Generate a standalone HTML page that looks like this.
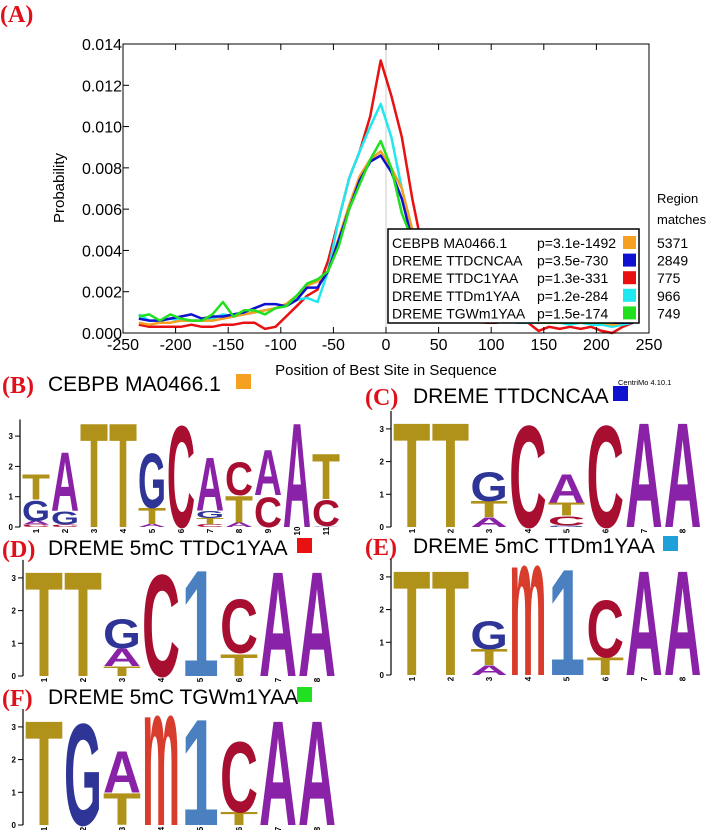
<!DOCTYPE html>
<html><head><meta charset="utf-8"><style>
body{margin:0;background:#fff;}
svg{display:block;font-family:"Liberation Sans",sans-serif;}
.pl{font-family:"Liberation Serif",serif;font-weight:bold;fill:#e0101a;font-size:24px;}
</style></head><body>
<svg id="root" width="708" height="830" viewBox="0 0 708 830">
<text class="pl" x="0" y="22">(A)</text>
<g id="chart"></g>
<g id="logos"></g>
</svg>
<script>
const xCats=[-235,-225,-215,-205,-195,-185,-175,-165,-155,-145,-135,-125,-115,-105,-95,-85,-75,-65,-55,-45,-35,-25,-15,-5,5,15,25,35,45,55,65,75,85,95,105,115,125,135,145,155,165,175,185,195,205,215,225,235];
const orangeVals=[0.5,0.4,0.5,0.5,0.6,0.6,0.6,0.6,0.7,0.8,0.9,1.0,1.1,1.2,1.4,1.8,2.3,2.5,3.0,4.6,6.2,7.6,8.4,8.8,8.0,7.0,5.0,3.2,2.2,1.5,1.1,0.9,0.8,0.7,0.7,0.6,0.6,0.6,0.5,0.5,0.5,0.5,0.5,0.5,0.5,0.4,0.5,0.5];
const blueVals=[0.7,0.6,0.6,0.7,0.8,0.9,0.7,0.8,0.8,0.9,1.0,1.2,1.4,1.4,1.3,1.6,2.2,2.2,3.0,4.5,6.0,7.4,8.3,8.6,7.8,6.5,4.5,3.0,2.0,1.4,1.1,0.9,0.8,0.7,0.7,0.6,0.6,0.6,0.5,0.5,0.5,0.5,0.5,0.5,0.5,0.5,0.5,0.5];
const redVals=[0.4,0.3,0.3,0.3,0.3,0.4,0.3,0.3,0.4,0.4,0.5,0.5,0.2,0.3,0.8,1.3,1.8,2.1,3.5,5.5,7.5,8.8,10.5,13.2,11.5,9.5,6.5,4.0,2.5,1.7,1.2,0.9,0.6,0.5,0.5,0.6,0.5,0.5,0.1,0.3,0.2,0.3,0.2,0.3,0.1,0.0,0.3,0.5];
const cyanVals=[0.9,0.6,0.6,0.7,0.6,0.6,0.6,0.7,0.9,0.8,0.9,1.0,1.1,1.2,1.3,1.6,1.7,1.5,3.0,5.5,7.5,8.8,10.0,11.1,9.5,7.0,5.0,3.0,2.0,1.4,1.0,0.8,0.7,0.6,0.6,0.6,0.5,0.5,0.5,0.5,0.5,0.4,0.5,0.4,0.4,0.3,0.4,0.5];
const greenVals=[0.8,0.9,0.6,0.9,0.7,0.6,0.6,0.9,1.5,0.8,1.1,1.1,0.9,1.2,1.3,1.8,2.4,2.6,3.0,4.2,6.0,7.2,8.4,9.3,8.0,5.8,4.5,3.0,2.0,1.4,1.0,0.8,0.7,0.7,0.6,0.6,0.6,0.6,0.5,0.5,0.5,0.5,0.5,0.5,0.5,0.5,0.6,0.6];
const xTicks=[-250,-200,-150,-100,-50,0,50,100,150,200,250];
const yTicks=[0,0.002,0.004,0.006,0.008,0.010,0.012,0.014];
const yTickLabels=["0.000","0.002","0.004","0.006","0.008","0.010","0.012","0.014"];
const legendNames=["CEBPB MA0466.1","DREME TTDCNCAA","DREME TTDC1YAA","DREME TTDm1YAA","DREME TGWm1YAA"];
const legendP=["p=3.1e-1492","p=3.5e-730","p=1.3e-331","p=1.2e-284","p=1.5e-174"];
const regionMatches=["5371","2849","775","966","749"];
const seriesColors=["#f5a020","#1010d0","#e81010","#20e8f0","#20e020"];

const NS="http://www.w3.org/2000/svg";
function mk(tag,attrs,parent,txt){const e=document.createElementNS(NS,tag);for(const k in attrs)e.setAttribute(k,attrs[k]);if(txt!==undefined)e.textContent=txt;parent.appendChild(e);return e;}
const chart=document.getElementById('chart');
const L=123,R=649,T=44,B=333;
const xs=v=>L+(v+250)/500*(R-L);
const ys=v=>B-(v/0.014)*(B-T);
let cl=mk('line',{x1:xs(0),x2:xs(0),y1:T,y2:B,stroke:'#ccc','stroke-width':1},chart);


[redVals,cyanVals,orangeVals,blueVals,greenVals].forEach((vals,i)=>{
  const col=[seriesColors[2],seriesColors[3],seriesColors[0],seriesColors[1],seriesColors[4]][i];
  const nm=['series-ttdc1yaa','series-ttdm1yaa','series-cebpb','series-ttdcncaa','series-tgwm1yaa'][i];
  const d=vals.map((v,j)=>(j?'L':'M')+xs(xCats[j]).toFixed(1)+','+ys(v/1000).toFixed(1)).join('');
  const p=mk('path',{d:d,fill:'none',stroke:col,'stroke-width':2.5,'stroke-linejoin':'round'},chart);
  
  
});
let fr=mk('rect',{x:L,y:T,width:R-L,height:B-T,fill:'none',stroke:'#000','stroke-width':1},chart);


xTicks.forEach(t=>{
  mk('line',{x1:xs(t),x2:xs(t),y1:B,y2:B-6,stroke:'#000'},chart);
  mk('line',{x1:xs(t),x2:xs(t),y1:T,y2:T+6,stroke:'#000'},chart);
  const tx=mk('text',{x:xs(t),y:B+17,'text-anchor':'middle','font-size':16},chart,String(t));
  
  
});
yTicks.forEach((t,i)=>{
  mk('line',{x1:L,x2:L+6,y1:ys(t),y2:ys(t),stroke:'#000'},chart);
  const tx=mk('text',{x:L-1,y:ys(t)+6,'text-anchor':'end','font-size':16},chart,yTickLabels[i]);
  
  
});
let xt=mk('text',{x:386,y:375,'text-anchor':'middle','font-size':15},chart,'Position of Best Site in Sequence');


let yt=mk('text',{x:0,y:0,'text-anchor':'middle','font-size':15,transform:'translate(64,188) rotate(-90)'},chart,'Probability');


let lg=mk('g',{},chart);


mk('rect',{x:388,y:229,width:251,height:94,fill:'#fff',stroke:'#000','stroke-width':1.5},lg);
legendNames.forEach((n,i)=>{
  const y=248+i*17.6;
  const g=mk('g',{},lg);
  
  
  mk('text',{x:392,y:y,'font-size':14},g,n);
  mk('text',{x:537,y:y,'font-size':14},g,legendP[i]);
  mk('rect',{x:623,y:y-12,width:13,height:13,fill:seriesColors[i]},g);
  const rm=mk('text',{x:657,y:y,'font-size':14},chart,regionMatches[i]);
  
  
});
let rh=mk('text',{x:657,y:203,'font-size':13},chart,'Region');


mk('text',{x:657,y:224,'font-size':13},chart,'matches');
let cv=mk('text',{x:618,y:385,'font-size':7.5},chart,'CentriMo 4.10.1');



const LC={T:'#b0921a',G:'#2e3596',A:'#8a22a8',C:'#a80e30',m:'#d83c2c','1':'#4a80c0'};
const capH={T:72,G:74,A:72,C:74,m:53,'1':71};
const logosG=document.getElementById('logos');
const logoB=[[['C',0.08],['A',0.12],['G',0.7],['T',0.85]],[['C',0.08],['G',0.45],['A',2.0]],[['T',3.55]],[['T',3.55]],[['A',0.1],['T',0.55],['G',1.9]],[['C',3.55]],[['C',0.1],['T',0.2],['G',0.25],['A',1.8]],[['A',0.15],['T',0.9],['C',1.15]],[['C',1.05],['A',1.55]],[['A',3.55]],[['G',0.03],['C',0.9],['T',1.55]]];
const logoC=[[['T',3.3]],[['T',3.3]],[['A',0.3],['T',0.5],['G',0.95]],[['C',3.3]],[['G',0.05],['C',0.3],['T',0.4],['A',0.9]],[['C',3.3]],[['A',3.3]],[['A',3.3]]];
const logoD=[[['T',3.3]],[['T',3.3]],[['T',0.3],['A',0.55],['G',0.95]],[['C',3.3]],[['1',3.3]],[['T',0.7],['C',1.75]],[['A',3.3]],[['A',3.3]]];
const logoE=[[['T',3.3]],[['T',3.3]],[['A',0.3],['T',0.5],['G',0.9]],[['m',3.3]],[['1',3.3]],[['T',0.55],['C',1.85]],[['A',3.3]],[['A',3.3]]];
const logoF=[[['T',3.3]],[['G',3.3]],[['T',1.0],['A',1.3]],[['m',3.3]],[['1',3.3]],[['T',0.4],['C',2.3]],[['A',3.3]],[['A',3.3]]];
const panels=[
 {data:logoB,ax:20,base:527,bit:30.3,x0:22,step:29,w:28,label:'(B)',lx:2,ly:393,title:'CEBPB MA0466.1',tx:48,sq:'#f5a020',sqx:236,name:'logo-cebpb'},
 {data:logoC,ax:391,base:527,bit:32.7,x0:393,step:38.7,w:37.5,label:'(C)',lx:365,ly:405,title:'DREME TTDCNCAA',tx:413,sq:'#1010d0',sqx:613,name:'logo-ttdcncaa'},
 {data:logoD,ax:23,base:676,bit:32.7,x0:25,step:39,w:38,label:'(D)',lx:2,ly:557,title:'DREME 5mC TTDC1YAA',tx:48,sq:'#e81010',sqx:297,name:'logo-ttdc1yaa'},
 {data:logoE,ax:391,base:675,bit:32.7,x0:393,step:38.7,w:37.5,label:'(E)',lx:365,ly:555,title:'DREME 5mC TTDm1YAA',tx:413,sq:'#20a0d8',sqx:663,name:'logo-ttdm1yaa'},
 {data:logoF,ax:23,base:825,bit:32.7,x0:25,step:39,w:38,label:'(F)',lx:2,ly:706,title:'DREME 5mC TGWm1YAA',tx:48,sq:'#20e020',sqx:297,name:'logo-tgwm1yaa'}
];
panels.forEach(p=>{
  const g=mk('g',{},logosG);
  
  
  const lb=mk('text',{x:p.lx,y:p.ly,class:'pl'},g,p.label);
  
  
  const tt=mk('text',{x:p.tx,y:p.ly-2,'font-size':21},g,p.title);
  
  
  mk('rect',{x:p.sqx,y:p.ly-19,width:15,height:15,fill:p.sq},g);
  mk('line',{x1:p.ax,x2:p.ax,y1:p.base-p.bit*3.55,y2:p.base,stroke:'#000','stroke-width':1.2},g);
  [0,1,2,3].forEach(t=>{
    const y=p.base-t*p.bit;
    mk('line',{x1:p.ax-5,x2:p.ax,y1:y,y2:y,stroke:'#000'},g);
    mk('text',{x:p.ax-7,y:y+3,'text-anchor':'end','font-size':8,'font-weight':'bold'},g,String(t));
  });
  p.data.forEach((stack,i)=>{
    const x=p.x0+i*p.step;
    let yb=p.base;
    stack.forEach(([ch,h])=>{
      const hp=h*p.bit;
      if(hp<0.5){yb-=hp;return;}
      const sx=p.w/60, sy=hp/capH[ch];
      const t=mk('text',{x:0,y:0,'font-size':100,'font-weight':'bold',fill:LC[ch],textLength:60,lengthAdjust:'spacingAndGlyphs',transform:`translate(${x.toFixed(1)},${yb.toFixed(1)}) scale(${sx.toFixed(3)},${sy.toFixed(3)})`},g,ch);
      
      
      yb-=hp;
    });
    mk('text',{x:0,y:0,'font-size':8,'font-weight':'bold','text-anchor':'middle',transform:`translate(${(x+p.w/2+3).toFixed(1)},${p.base+4}) rotate(-90)`},g,String(i+1));
  });
});
</script>
</body></html>
